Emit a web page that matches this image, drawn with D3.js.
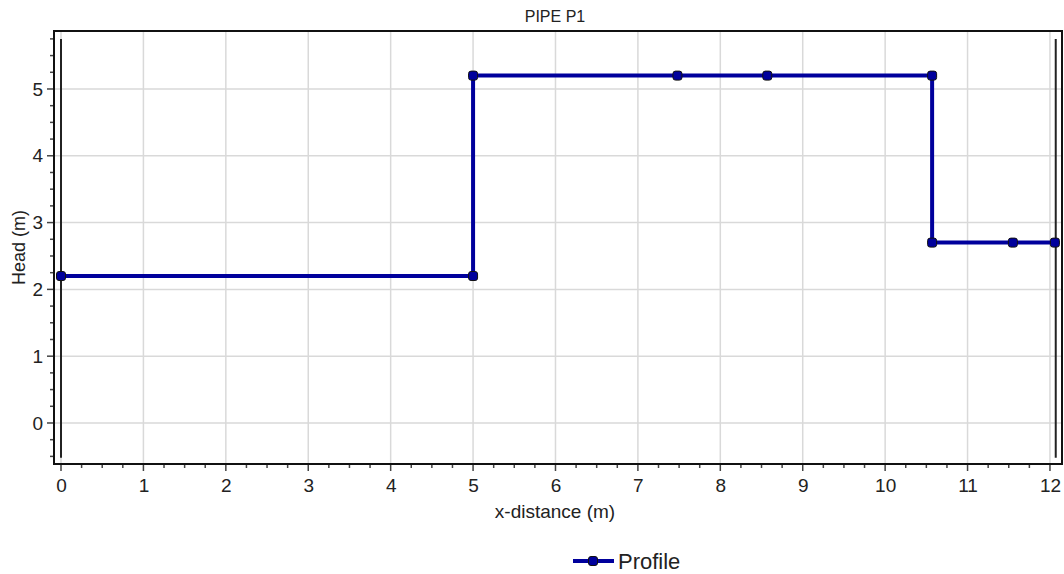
<!DOCTYPE html>
<html>
<head>
<meta charset="utf-8">
<script src="https://cdn.jsdelivr.net/npm/d3@7"></script>
<style>
  body { margin: 0; background: #fff; }
  text { font-family: "Liberation Sans", Arial, sans-serif; fill: #222; }
</style>
</head>
<body>
<div id="chart"></div>
<script>
// profile points along pipe P1
const distance = [0, 5, 5, 7.48, 8.57, 10.57, 10.57, 11.55, 12.06];
const head = [2.2, 2.2, 5.2, 5.2, 5.2, 5.2, 2.7, 2.7, 2.7];
const nodeLines = [0, 12.07];
const xTicks = [0, 1, 2, 3, 4, 5, 6, 7, 8, 9, 10, 11, 12];
const yTicks = [0, 1, 2, 3, 4, 5];

const data = distance.map((d, i) => ({ x: d, y: head[i] }));

const width = 1064, height = 574;
const margin = { top: 31, right: 2, bottom: 110, left: 54 };
const w = width - margin.left - margin.right;
const h = height - margin.top - margin.bottom;

const x = d3.scaleLinear().domain([-0.085, 12.146]).range([0, w]);
const y = d3.scaleLinear().domain([-0.614, 5.868]).range([h, 0]);

const svg = d3.select('#chart').append('svg')
  .attr('width', width)
  .attr('height', height);

const g = svg.append('g')
  .attr('transform', `translate(${margin.left},${margin.top})`);

// grid
g.append('g')
  .selectAll('line')
  .data(xTicks)
  .join('line')
  .attr('x1', d => x(d)).attr('x2', d => x(d))
  .attr('y1', 0).attr('y2', h)
  .attr('stroke', '#d9d9d9').attr('stroke-width', 1.5);

g.append('g')
  .selectAll('line')
  .data(yTicks)
  .join('line')
  .attr('x1', 0).attr('x2', w)
  .attr('y1', d => y(d)).attr('y2', d => y(d))
  .attr('stroke', '#d9d9d9').attr('stroke-width', 1.5);

// minor ticks
const xMinor = d3.range(0, 12.01, 0.25);
const yMinor = d3.range(-0.5, 5.76, 0.25);

g.append('g')
  .attr('transform', `translate(0,${h})`)
  .selectAll('line')
  .data(xMinor)
  .join('line')
  .attr('x1', d => x(d)).attr('x2', d => x(d))
  .attr('y1', 0).attr('y2', d => Number.isInteger(d) ? 7 : 4)
  .attr('stroke', '#444').attr('stroke-width', 1.5);

g.append('g')
  .selectAll('line')
  .data(yMinor)
  .join('line')
  .attr('x1', d => Number.isInteger(d) ? -7 : -4).attr('x2', 0)
  .attr('y1', d => y(d)).attr('y2', d => y(d))
  .attr('stroke', '#444').attr('stroke-width', 1.5);

// tick labels
const xAxis = g.append('g')
  .attr('transform', `translate(0,${h})`)
  .call(d3.axisBottom(x).tickValues(xTicks).tickFormat(d3.format('d')).tickSize(0).tickPadding(15));
xAxis.select('.domain').remove();
xAxis.selectAll('text').style('font-size', '19px');

const yAxis = g.append('g')
  .call(d3.axisLeft(y).tickValues(yTicks).tickFormat(d3.format('d')).tickSize(0).tickPadding(11));
yAxis.select('.domain').remove();
yAxis.selectAll('text').style('font-size', '19px');

// frame
g.append('rect')
  .attr('x', 0).attr('y', 0)
  .attr('width', w).attr('height', h)
  .attr('fill', 'none')
  .attr('stroke', '#111').attr('stroke-width', 2);

// node lines
g.append('g')
  .selectAll('line')
  .data(nodeLines)
  .join('line')
  .attr('x1', d => x(d)).attr('x2', d => x(d))
  .attr('y1', y(5.75)).attr('y2', y(-0.52))
  .attr('stroke', '#222').attr('stroke-width', 2);

// profile line
g.append('path')
  .datum(data)
  .attr('fill', 'none')
  .attr('stroke', '#00009c')
  .attr('stroke-width', 4)
  .attr('d', d3.line().x(d => x(d.x)).y(d => y(d.y)));

g.append('g')
  .selectAll('rect')
  .data(data)
  .join('rect')
  .attr('x', d => x(d.x) - 4.5)
  .attr('y', d => y(d.y) - 4.5)
  .attr('width', 9).attr('height', 9)
  .attr('rx', 2.5)
  .attr('fill', '#00009c')
  .attr('stroke', '#111').attr('stroke-width', 1);

// title and axis titles
svg.append('text')
  .attr('x', 555).attr('y', 22)
  .attr('text-anchor', 'middle')
  .style('font-size', '16px')
  .text('PIPE P1');

svg.append('text')
  .attr('x', 555).attr('y', 518)
  .attr('text-anchor', 'middle')
  .style('font-size', '19px')
  .text('x-distance (m)');

svg.append('text')
  .attr('transform', `translate(25,${margin.top + h / 2}) rotate(-90)`)
  .attr('text-anchor', 'middle')
  .style('font-size', '18px')
  .text('Head (m)');

// legend
const lg = svg.append('g').attr('transform', 'translate(573,561)');
lg.append('line')
  .attr('x1', 0).attr('x2', 41)
  .attr('stroke', '#00009c').attr('stroke-width', 4);
lg.append('rect')
  .attr('x', 15.5).attr('y', -4.5)
  .attr('width', 9).attr('height', 9).attr('rx', 2.5)
  .attr('fill', '#00009c').attr('stroke', '#111');
lg.append('text')
  .attr('x', 45).attr('y', 8)
  .style('font-size', '22px')
  .text('Profile');
</script>
</body>
</html>
